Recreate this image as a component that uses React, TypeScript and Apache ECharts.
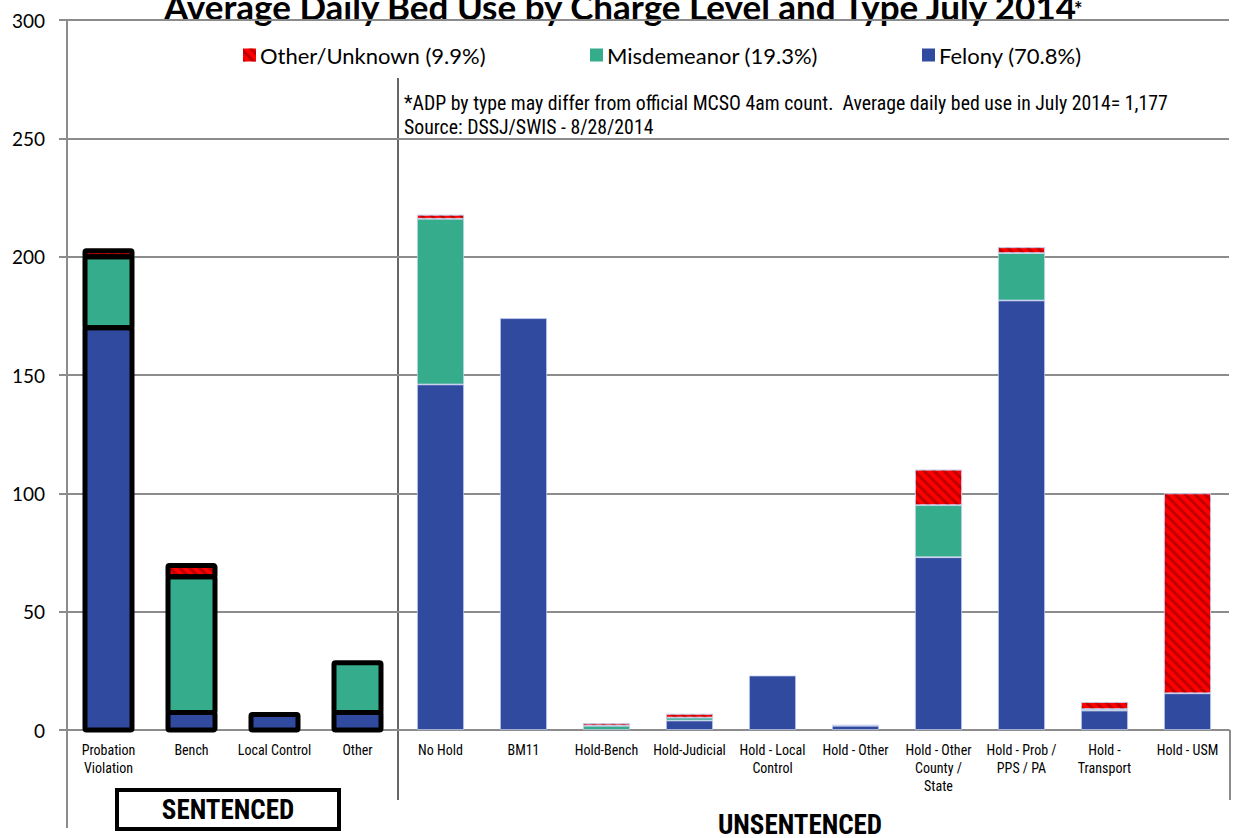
import React, { useEffect, useRef } from "react";
import * as echarts from "echarts";

const categories = [
  "Probation\nViolation",
  "Bench",
  "Local Control",
  "Other",
  "No Hold",
  "BM11",
  "Hold-Bench",
  "Hold-Judicial",
  "Hold - Local\nControl",
  "Hold - Other",
  "Hold - Other\nCounty /\nState",
  "Hold - Prob /\nPPS / PA",
  "Hold -\nTransport",
  "Hold - USM",
];
const felony = [170, 7.4, 6.5, 7.4, 146, 174, 0, 4, 23, 1.8, 73, 181.5, 8.2, 15.5];
const misdemeanor = [30, 57.4, 0, 21, 70, 0, 1.8, 1.2, 0, 0, 22, 20, 0.6, 0];
const otherUnknown = [2.5, 4.7, 0, 0, 1.7, 0, 1, 1.6, 0, 0.3, 15, 2.5, 3, 84.5];
const seriesNames = ["Felony (70.8%)", "Misdemeanor (19.3%)", "Other/Unknown (9.9%)"];
const yTicks = { min: 0, max: 300, interval: 50 };
const sentencedCount = 4;

const BLUE = "#304A9F";
const GREEN = "#35AC8C";
const RED = "#FF0000";
const NARROW = '"Liberation Sans Narrow", "Arial Narrow", "Roboto Condensed", "Liberation Sans", sans-serif';
const CAL = 'Lato, "Open Sans", sans-serif';
const BAR_W = 47;

const redDecal = {
  symbol: "rect",
  symbolSize: 1,
  color: "rgba(150,0,0,0.6)",
  dashArrayX: [1, 0],
  dashArrayY: [3, 4],
  rotation: Math.PI / 4,
};

function build(vals: number[]) {
  return vals.map((v, i) => ({
    value: v === 0 ? "-" : v,
    itemStyle:
      i < sentencedCount
        ? { borderWidth: 0 }
        : { borderColor: "rgba(200,210,240,0.9)", borderWidth: 0.8 },
  }));
}

export default function App() {
  const ref = useRef<HTMLDivElement>(null);
  useEffect(() => {
    const chart = echarts.init(ref.current!, null, { renderer: "svg" });
    const gray = "#8c8c8c";
    const legendBase = {
      top: 39,
      itemWidth: 13,
      itemHeight: 13,
      itemGap: 4,
      icon: "rect",
      textStyle: { fontFamily: CAL, fontSize: 22, color: "#000", padding: [0, 0, 0, -1] },
    };
    chart.setOption({
      animation: false,
      grid: { left: 67, right: 4, top: 20, bottom: 108, containLabel: false },
      legend: [
        { ...legendBase, left: 238, data: [seriesNames[2]] },
        { ...legendBase, left: 585, data: [seriesNames[1]] },
        { ...legendBase, left: 917, data: [seriesNames[0]] },
      ],
      xAxis: {
        type: "category",
        data: categories,
        axisLine: { lineStyle: { color: gray, width: 2 } },
        axisTick: { show: false },
        axisLabel: {
          interval: 0,
          margin: 11,
          color: "#000",
          fontFamily: NARROW,
          fontSize: 14,
          lineHeight: 18,
        },
      },
      yAxis: {
        type: "value",
        min: yTicks.min,
        max: yTicks.max,
        interval: yTicks.interval,
        axisLine: { show: true, lineStyle: { color: gray, width: 2 } },
        axisTick: { show: true, length: 8, lineStyle: { color: gray, width: 2 } },
        splitLine: { lineStyle: { color: gray, width: 2 } },
        axisLabel: { margin: 22, color: "#000", fontFamily: CAL, fontSize: 19 },
      },
      series: [
        { name: seriesNames[0], type: "bar", stack: "a", barWidth: BAR_W, itemStyle: { color: BLUE }, data: build(felony) },
        { name: seriesNames[1], type: "bar", stack: "a", barWidth: BAR_W, itemStyle: { color: GREEN }, data: build(misdemeanor) },
        {
          name: seriesNames[2],
          type: "bar",
          stack: "a",
          barWidth: BAR_W,
          itemStyle: { color: RED, decal: redDecal },
          data: build(otherUnknown),
        },
        {
          type: "custom",
          silent: true,
          z: 5,
          data: categories.slice(0, sentencedCount).map((_, i) => [i, felony[i], misdemeanor[i], otherUnknown[i]]),
          encode: { x: 0, y: 1 },
          renderItem: (params: any, api: any) => {
            const i = api.value(0);
            const vals = [api.value(1), api.value(2), api.value(3)];
            const cx = api.coord([i, 0])[0];
            let base = 0;
            const children: any[] = [];
            vals.forEach((v: number) => {
              if (v > 0) {
                const y0 = api.coord([i, base])[1];
                const y1 = api.coord([i, base + v])[1];
                children.push({
                  type: "rect",
                  shape: { x: cx - BAR_W / 2, y: y1, width: BAR_W, height: y0 - y1, r: 1.5 },
                  style: { fill: "none", stroke: "#000", lineWidth: 5, lineJoin: "round" },
                });
              }
              base += v;
            });
            return { type: "group", children };
          },
        },
      ],
      graphic: [
        {
          type: "text",
          x: 620,
          y: 5.5,
          style: {
            text: "Average Daily Bed Use by Charge Level and Type July 2014",
            align: "center",
            verticalAlign: "middle",
            fontFamily: CAL,
            fontWeight: "bold",
            fontSize: 35,
            fill: "#000",
          },
        },
        {
          type: "text",
          x: 1074,
          y: 9,
          style: {
            text: "*",
            align: "left",
            verticalAlign: "middle",
            fontFamily: CAL,
            fontWeight: "bold",
            fontSize: 20,
            fill: "#000",
          },
        },
        {
          type: "text",
          x: 404,
          y: 91,
          style: {
            text: "*ADP by type may differ from official MCSO 4am count.  Average daily bed use in July 2014= 1,177\nSource: DSSJ/SWIS - 8/28/2014",
            fontFamily: NARROW,
            fontSize: 19.8,
            lineHeight: 24,
            fill: "#000",
          },
        },
        { type: "line", shape: { x1: 67, y1: 730, x2: 67, y2: 828 }, style: { stroke: gray, lineWidth: 2 } },
        { type: "line", shape: { x1: 398, y1: 78, x2: 398, y2: 800 }, style: { stroke: "#000", lineWidth: 1.2 } },
        { type: "line", shape: { x1: 1230, y1: 730, x2: 1230, y2: 800 }, style: { stroke: gray, lineWidth: 2 } },
        {
          type: "rect",
          shape: { x: 117, y: 790, width: 222, height: 39 },
          style: { fill: "#fff", stroke: "#000", lineWidth: 4 },
        },
        {
          type: "text",
          x: 228,
          y: 810,
          style: {
            text: "SENTENCED",
            align: "center",
            verticalAlign: "middle",
            fontFamily: NARROW,
            fontWeight: "bold",
            fontSize: 27,
            fill: "#000",
          },
        },
        {
          type: "text",
          x: 800,
          y: 825,
          style: {
            text: "UNSENTENCED",
            align: "center",
            verticalAlign: "middle",
            fontFamily: NARROW,
            fontWeight: "bold",
            fontSize: 27,
            fill: "#000",
          },
        },
      ],
    });
    return () => chart.dispose();
  }, []);
  return <div ref={ref} style={{ width: 1233, height: 838, position: "absolute", left: 0, top: 0 }} />;
}
